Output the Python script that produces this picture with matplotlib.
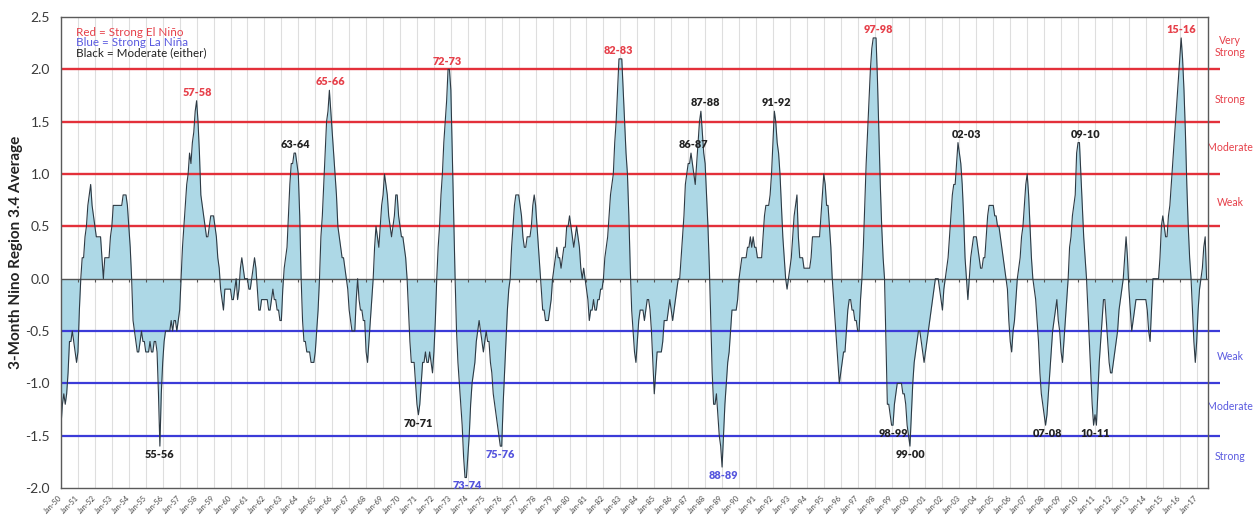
import numpy as np
import matplotlib
matplotlib.use("Agg")
import matplotlib.pyplot as plt

# ---------------- data (3-month running mean, monthly, Jan-1950 .. Aug-2017) ----------------
oni_1950s = [
    -1.4, -1.2, -1.1, -1.2, -1.1, -0.9, -0.6, -0.6, -0.5, -0.6, -0.7, -0.8,
    -0.7, -0.3, 0.0, 0.2, 0.2, 0.4, 0.5, 0.7, 0.8, 0.9, 0.7, 0.6,
    0.5, 0.4, 0.4, 0.4, 0.4, 0.2, 0.0, 0.2, 0.2, 0.2, 0.2, 0.4,
    0.5, 0.7, 0.7, 0.7, 0.7, 0.7, 0.7, 0.7, 0.8, 0.8, 0.8, 0.7,
    0.5, 0.3, 0.0, -0.4, -0.5, -0.6, -0.7, -0.7, -0.6, -0.5, -0.6, -0.6,
    -0.7, -0.7, -0.7, -0.6, -0.7, -0.7, -0.6, -0.6, -0.7, -1.1, -1.6, -1.1,
    -0.8, -0.6, -0.5, -0.5, -0.5, -0.5, -0.4, -0.5, -0.4, -0.4, -0.5, -0.4,
    -0.3, 0.0, 0.3, 0.5, 0.7, 0.9, 1.0, 1.2, 1.1, 1.3, 1.4, 1.6,
    1.7, 1.5, 1.2, 0.8, 0.7, 0.6, 0.5, 0.4, 0.4, 0.5, 0.6, 0.6,
    0.6, 0.5, 0.4, 0.2, 0.1, -0.1, -0.2, -0.3, -0.1, -0.1, -0.1, -0.1]
oni_1960s = [
    -0.1, -0.2, -0.2, -0.1, 0.0, -0.2, -0.1, 0.1, 0.2, 0.1, 0.0, 0.0,
    0.0, -0.1, -0.1, 0.0, 0.1, 0.2, 0.1, -0.1, -0.3, -0.3, -0.2, -0.2,
    -0.2, -0.2, -0.2, -0.3, -0.3, -0.2, -0.1, -0.2, -0.2, -0.3, -0.3, -0.4,
    -0.4, -0.1, 0.1, 0.2, 0.3, 0.6, 0.9, 1.1, 1.1, 1.2, 1.2, 1.1,
    1.0, 0.6, 0.0, -0.4, -0.6, -0.6, -0.7, -0.7, -0.7, -0.8, -0.8, -0.8,
    -0.7, -0.5, -0.3, 0.0, 0.4, 0.6, 0.9, 1.2, 1.5, 1.6, 1.8, 1.6,
    1.4, 1.2, 1.0, 0.8, 0.5, 0.4, 0.3, 0.2, 0.2, 0.1, 0.0, -0.1,
    -0.3, -0.4, -0.5, -0.5, -0.5, -0.2, 0.0, -0.2, -0.3, -0.3, -0.4, -0.4,
    -0.7, -0.8, -0.6, -0.4, -0.2, 0.0, 0.3, 0.5, 0.4, 0.3, 0.5, 0.7,
    0.8, 1.0, 0.9, 0.8, 0.6, 0.5, 0.4, 0.5, 0.6, 0.8, 0.8, 0.6]
oni_1970s = [
    0.5, 0.4, 0.4, 0.3, 0.2, 0.0, -0.3, -0.6, -0.8, -0.8, -0.8, -1.0,
    -1.2, -1.3, -1.2, -1.0, -0.8, -0.8, -0.7, -0.8, -0.8, -0.7, -0.8, -0.9,
    -0.7, -0.4, 0.0, 0.3, 0.5, 0.8, 1.0, 1.3, 1.5, 1.7, 2.0, 2.0,
    1.8, 1.2, 0.6, 0.0, -0.5, -0.8, -1.0, -1.2, -1.4, -1.7, -1.9, -1.9,
    -1.7, -1.5, -1.2, -1.0, -0.9, -0.8, -0.6, -0.5, -0.4, -0.5, -0.6, -0.7,
    -0.6, -0.5, -0.6, -0.6, -0.8, -0.9, -1.1, -1.2, -1.3, -1.4, -1.5, -1.6,
    -1.6, -1.2, -0.9, -0.6, -0.3, -0.1, 0.0, 0.3, 0.5, 0.7, 0.8, 0.8,
    0.8, 0.7, 0.6, 0.4, 0.3, 0.3, 0.4, 0.4, 0.4, 0.5, 0.7, 0.8,
    0.7, 0.5, 0.3, 0.1, -0.1, -0.3, -0.3, -0.4, -0.4, -0.4, -0.3, -0.2,
    0.0, 0.1, 0.2, 0.3, 0.2, 0.2, 0.1, 0.2, 0.3, 0.3, 0.5, 0.5]
oni_1980s = [
    0.6, 0.5, 0.4, 0.3, 0.4, 0.5, 0.4, 0.3, 0.1, 0.0, 0.1, 0.0,
    -0.1, -0.2, -0.4, -0.3, -0.3, -0.2, -0.3, -0.3, -0.2, -0.2, -0.1, -0.1,
    0.0, 0.2, 0.3, 0.4, 0.6, 0.8, 0.9, 1.0, 1.3, 1.5, 1.8, 2.1,
    2.1, 2.1, 1.8, 1.5, 1.2, 1.0, 0.6, 0.1, -0.3, -0.5, -0.7, -0.8,
    -0.6, -0.4, -0.3, -0.3, -0.3, -0.4, -0.3, -0.2, -0.2, -0.3, -0.5, -0.8,
    -1.1, -0.9, -0.7, -0.7, -0.7, -0.7, -0.6, -0.4, -0.4, -0.4, -0.3, -0.2,
    -0.3, -0.4, -0.3, -0.2, -0.1, 0.0, 0.0, 0.2, 0.4, 0.6, 0.9, 1.0,
    1.1, 1.1, 1.2, 1.1, 1.0, 0.9, 1.1, 1.3, 1.5, 1.6, 1.4, 1.2,
    1.1, 0.8, 0.5, 0.1, -0.4, -0.9, -1.2, -1.2, -1.1, -1.3, -1.5, -1.6,
    -1.8, -1.5, -1.2, -1.0, -0.8, -0.7, -0.5, -0.3, -0.3, -0.3, -0.3, -0.2]
oni_1990s = [
    0.0, 0.1, 0.2, 0.2, 0.2, 0.2, 0.3, 0.3, 0.4, 0.3, 0.4, 0.3,
    0.3, 0.2, 0.2, 0.2, 0.2, 0.4, 0.6, 0.7, 0.7, 0.7, 0.8, 1.0,
    1.3, 1.6, 1.5, 1.3, 1.2, 1.0, 0.7, 0.4, 0.2, 0.0, -0.1, 0.0,
    0.1, 0.2, 0.4, 0.6, 0.7, 0.8, 0.4, 0.2, 0.2, 0.2, 0.1, 0.1,
    0.1, 0.1, 0.1, 0.2, 0.4, 0.4, 0.4, 0.4, 0.4, 0.4, 0.6, 0.8,
    1.0, 0.9, 0.7, 0.7, 0.5, 0.3, 0.0, -0.2, -0.4, -0.6, -0.8, -1.0,
    -0.9, -0.8, -0.7, -0.7, -0.5, -0.3, -0.2, -0.2, -0.3, -0.3, -0.4, -0.4,
    -0.5, -0.5, -0.2, 0.0, 0.3, 0.7, 1.1, 1.4, 1.7, 2.0, 2.2, 2.3,
    2.3, 2.3, 1.9, 1.4, 0.9, 0.5, 0.2, 0.0, -0.6, -1.2, -1.2, -1.3,
    -1.4, -1.4, -1.2, -1.1, -1.0, -1.0, -1.0, -1.0, -1.1, -1.1, -1.2, -1.4]
oni_2000s = [
    -1.5, -1.6, -1.3, -1.0, -0.8, -0.7, -0.6, -0.5, -0.5, -0.6, -0.7, -0.8,
    -0.7, -0.6, -0.5, -0.4, -0.3, -0.2, -0.1, 0.0, 0.0, 0.0, -0.1, -0.2,
    -0.3, -0.1, 0.0, 0.1, 0.2, 0.4, 0.6, 0.8, 0.9, 0.9, 1.1, 1.3,
    1.2, 1.1, 0.9, 0.6, 0.2, 0.0, -0.2, 0.0, 0.2, 0.3, 0.4, 0.4,
    0.4, 0.3, 0.2, 0.1, 0.1, 0.2, 0.2, 0.4, 0.6, 0.7, 0.7, 0.7,
    0.7, 0.6, 0.6, 0.5, 0.5, 0.4, 0.3, 0.2, 0.1, 0.0, -0.1, -0.4,
    -0.6, -0.7, -0.5, -0.4, -0.2, 0.0, 0.1, 0.2, 0.4, 0.5, 0.7, 0.9,
    1.0, 0.8, 0.5, 0.2, 0.0, -0.1, -0.2, -0.4, -0.6, -0.9, -1.1, -1.2,
    -1.3, -1.4, -1.3, -1.1, -0.9, -0.7, -0.5, -0.4, -0.3, -0.2, -0.4, -0.5,
    -0.7, -0.8, -0.6, -0.4, -0.2, 0.0, 0.3, 0.4, 0.6, 0.7, 0.8, 1.2]
oni_2010s = [
    1.3, 1.3, 1.0, 0.7, 0.4, 0.2, 0.0, -0.3, -0.6, -0.9, -1.2, -1.4,
    -1.3, -1.4, -1.1, -0.8, -0.6, -0.4, -0.2, -0.2, -0.4, -0.6, -0.8, -0.9,
    -0.9, -0.8, -0.7, -0.6, -0.5, -0.3, -0.2, -0.1, 0.0, 0.2, 0.4, 0.2,
    -0.1, -0.3, -0.5, -0.4, -0.3, -0.2, -0.2, -0.2, -0.2, -0.2, -0.2, -0.2,
    -0.2, -0.3, -0.5, -0.6, -0.3, 0.0, 0.0, 0.0, 0.0, 0.0, 0.2, 0.5,
    0.6, 0.5, 0.4, 0.4, 0.6, 0.7, 0.9, 1.1, 1.3, 1.5, 1.7, 1.9,
    2.1, 2.3, 2.1, 1.8, 1.4, 0.9, 0.5, 0.2, 0.0, -0.3, -0.6, -0.8,
    -0.6, -0.3, -0.1, 0.0, 0.1, 0.3, 0.4, 0.0]

tick_years = list(range(1950, 2018))
tick_labels = [f"Jan-{y % 100:02d}" for y in tick_years]

nino_levels = [0.5, 1.0, 1.5, 2.0]
nina_levels = [-0.5, -1.0, -1.5]

# episode labels: text, category, month index of the extreme it names, label centre (month index)
ep_text = ["55-56", "57-58", "63-64", "65-66", "70-71", "72-73", "73-74", "75-76",
           "82-83", "86-87", "87-88", "88-89", "91-92", "97-98", "98-99", "99-00",
           "02-03", "07-08", "09-10", "10-11", "15-16"]
ep_kind = ["mod", "nino", "mod", "nino", "mod", "nino", "nina", "nina",
           "nino", "mod", "mod", "nina", "mod", "nino", "mod", "mod",
           "mod", "mod", "mod", "mod", "nino"]
ep_peak = [70, 96, 165, 190, 253, 275, 286, 312, 395, 446, 453, 468, 505, 576,
           589, 601, 635, 697, 720, 733, 793]
ep_xc = [70.0, 96.5, 165.7, 191.0, 252.8, 273.5, 287.7, 310.8, 394.3, 447.9, 455.9,
         468.7, 506.7, 579.0, 589.0, 601.0, 640.7, 698.4, 725.3, 732.4, 793.0]

side_text = ["Very\nStrong", "Strong", "Moderate", "Weak", "Weak", "Moderate", "Strong"]
side_val = [2.22, 1.71, 1.25, 0.73, -0.74, -1.22, -1.70]
side_kind = ["nino", "nino", "nino", "nino", "nina", "nina", "nina"]

legend_lines = ["Red = Strong El Niño", "Blue = Strong La Niña", "Black = Moderate (either)"]

# ---------------- drawing ----------------
plt.rcParams['font.family'] = ['Lato', 'DejaVu Sans']

RED_LINE = '#e3303a'
BLUE_LINE = '#3b3bd8'
RED_TXT = '#e6404a'
BLUE_TXT = '#5a5ae0'
DARK = '#222222'

oni = np.array(oni_1950s + oni_1960s + oni_1970s + oni_1980s +
               oni_1990s + oni_2000s + oni_2010s)
months = np.arange(len(oni))
tick_pos = [12 * (y - 1950) for y in tick_years]

W, H = 1257, 521
fig = plt.figure(figsize=(W / 100, H / 100), dpi=100)
L, R, T, B = 61, 1208, 17, 488
ax = fig.add_axes([L / W, 1 - B / H, (R - L) / W, (B - T) / H])
ax.set_xlim(0, 812)
ax.set_ylim(-2.0, 2.5)

# vertical grid
for p in tick_pos:
    ax.axvline(p, color='#dedede', lw=0.8, zorder=0)

ax.fill_between(months, oni, 0, color='#add8e6', lw=0, zorder=1)

yt = ax.get_yaxis_transform()
for v in nino_levels:
    ax.plot([0, 1.0105], [v, v], transform=yt, color=RED_LINE, lw=1.7,
            clip_on=False, zorder=2, solid_capstyle='butt')
for v in nina_levels:
    ax.plot([0, 1.0105], [v, v], transform=yt, color=BLUE_LINE, lw=1.6,
            clip_on=False, zorder=2, solid_capstyle='butt')

ax.axhline(0, color='#555555', lw=1.0, zorder=3)
ax.vlines(tick_pos, -0.035, 0, color='#555555', lw=0.8, zorder=3)

ax.plot(months, oni, color='#2e3a44', lw=0.8, zorder=4)

for s in ax.spines.values():
    s.set_color('#5a5a5a')
    s.set_linewidth(1.0)
    s.set_zorder(5)

ax.set_yticks(np.arange(-2.0, 2.51, 0.5))
ax.set_yticklabels([f"{v:.1f}" for v in np.arange(-2.0, 2.51, 0.5)])
ax.tick_params(axis='y', length=0, pad=8, labelsize=10.0, labelcolor='#3a3a3a')

ax.set_xticks(tick_pos)
ax.set_xticklabels(tick_labels, rotation=45, ha='right', va='center',
                   rotation_mode='anchor', fontsize=5.3, color='#444444')
ax.tick_params(axis='x', length=0, pad=6)

ax.set_ylabel("3-Month Nino Region 3.4 Average", fontsize=11.0,
              fontweight='bold', color=DARK)
ax.yaxis.set_label_coords(-0.0335, 0.5)

# legend-like text
leg_cols = [RED_TXT, BLUE_TXT, DARK]
leg_y = [2.35, 2.255, 2.16]
for t, c, yv in zip(legend_lines, leg_cols, leg_y):
    ax.text(0.013, yv, t, transform=yt, color=c, fontsize=8.4,
            ha='left', va='center', zorder=6)

# right-hand category labels
for t, v, k in zip(side_text, side_val, side_kind):
    ax.text(1.0192, v, t, transform=yt, ha='center', va='center',
            color=RED_TXT if k == 'nino' else BLUE_TXT, fontsize=7.6,
            linespacing=1.05, clip_on=False)

# episode labels anchored to the series' extremes
kind_col = {'nino': RED_TXT, 'nina': '#5555dd', 'mod': DARK}
for t, k, pk, xc in zip(ep_text, ep_kind, ep_peak, ep_xc):
    val = oni[pk]
    dy = 6.0 if val > 0 else -6.0
    ax.annotate(t, xy=(xc, val), xytext=(0, dy), textcoords='offset points',
                ha='center', va='center', fontsize=7.8, fontweight='heavy',
                color=kind_col[k], zorder=6)

fig.savefig('out.png', dpi=100)
